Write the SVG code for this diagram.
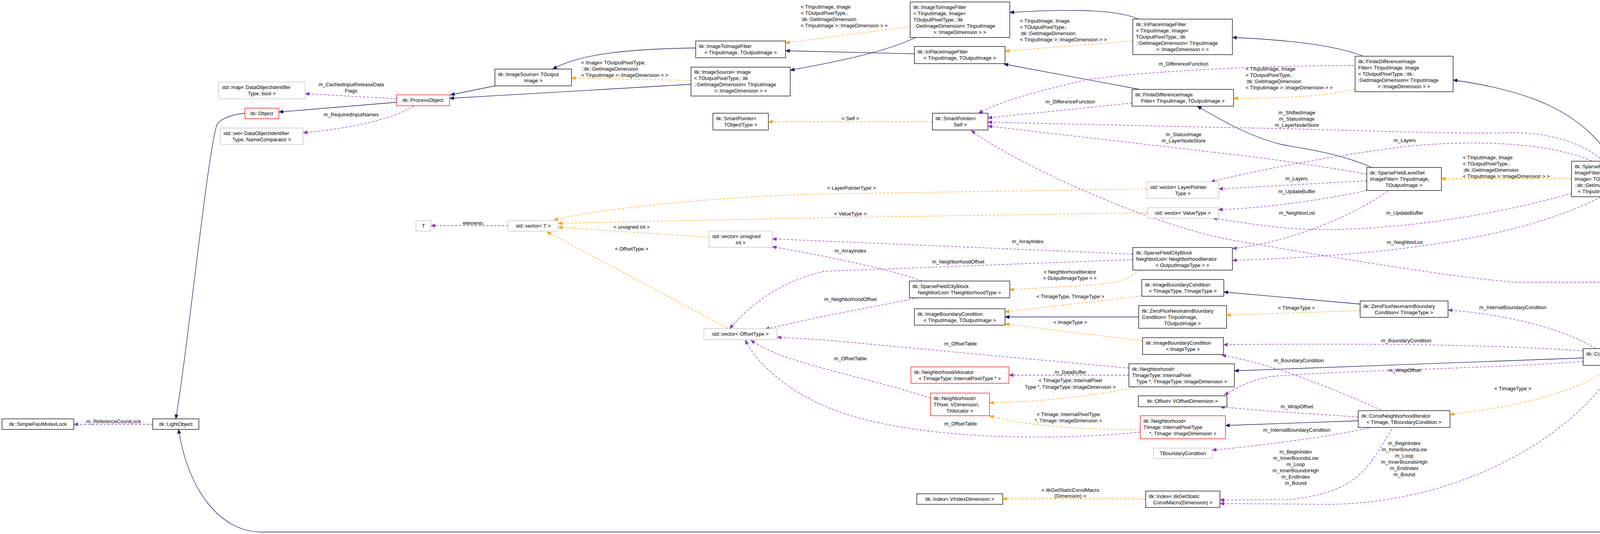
<svg xmlns="http://www.w3.org/2000/svg" width="6315" height="1368" viewBox="0 0 6315 1368">
<style>
text{font-family:"Liberation Sans",Arial,sans-serif;font-size:13px;fill:#000}
.c{text-anchor:middle}
.n rect{fill:#fff;stroke:#000;stroke-width:1.3}
.g rect{stroke:#bfbfbf}
.r rect{stroke:#ff0000}
.h rect{fill:#bfbfbf}
.e path{fill:none;stroke-width:1.3}
.nv{stroke:#191970}
.pu{stroke:#9a32cd;stroke-dasharray:6,4}
.or{stroke:#ffa500;stroke-dasharray:6,4}
</style>
<defs>
<marker id="an" markerWidth="12" markerHeight="10" refX="11" refY="5" orient="auto" markerUnits="userSpaceOnUse"><path d="M0,0 L12,5 L0,10 z" fill="#191970"/></marker>
<marker id="ap" markerWidth="12" markerHeight="10" refX="11" refY="5" orient="auto" markerUnits="userSpaceOnUse"><path d="M0,0 L12,5 L0,10 z" fill="#9a32cd"/></marker>
<marker id="ao" markerWidth="12" markerHeight="10" refX="11" refY="5" orient="auto" markerUnits="userSpaceOnUse"><path d="M0,0 L12,5 L0,10 z" fill="#ffa500"/></marker>
</defs>
<rect width="6315" height="1368" fill="#fff"/>
<g id="edges" class="e">
<path class="nv" marker-end="url(#an)" d="M6056,629 L6004,629"/>
<path class="nv" marker-end="url(#an)" d="M5752,600 C5600,565 5400,565 5300,565 L4540,565 C4400,565 4330,530 4278,505"/>
<path class="nv" marker-end="url(#an)" d="M4128,413 C4050,280 3900,230 3720,205"/>
<path class="nv" marker-end="url(#an)" d="M3510,428 C3420,390 3330,380 3280,370 C3200,350 3130,310 3065,272"/>
<path class="nv" marker-end="url(#an)" d="M3488,143 C3400,110 3250,100 3155,96"/>
<path class="nv" marker-end="url(#an)" d="M2917,229 L2570,164"/>
<path class="nv" marker-end="url(#an)" d="M2915,49 C2850,20 2700,25 2585,32"/>
<path class="nv" marker-end="url(#an)" d="M2341,138 L2011,130"/>
<path class="nv" marker-end="url(#an)" d="M2345,96 C2250,140 2100,165 2023,180"/>
<path class="nv" marker-end="url(#an)" d="M1781,123 C1600,125 1480,140 1415,177"/>
<path class="nv" marker-end="url(#an)" d="M1769,216 L1151,252"/>
<path class="nv" marker-end="url(#an)" d="M1267,220 L1153,243"/>
<path class="nv" marker-end="url(#an)" d="M1015,262 L714,287"/>
<path class="nv" marker-end="url(#an)" d="M627,290 C580,295 560,310 555,320 C530,400 480,900 450,1073"/>
<path class="nv" marker-end="url(#an)" d="M4475,912 C4380,1000 4360,1150 4340,1250 C4320,1330 4280,1363 4200,1363 L670,1363 C560,1363 480,1250 457,1100"/>
<path class="nv" marker-end="url(#an)" d="M4958,829 L4654,873"/>
<path class="nv" marker-end="url(#an)" d="M5304,773 L5111,802"/>
<path class="nv" marker-end="url(#an)" d="M2915,812 L2573,812"/>
<path class="nv" marker-end="url(#an)" d="M3482,779 L3133,748"/>
<path class="nv" marker-end="url(#an)" d="M4053,917 L3160,950"/>
<path class="nv" marker-end="url(#an)" d="M3477,1078 L3137,1090"/>
<path class="or" marker-end="url(#ao)" d="M1769,206 L1463,200"/>
<path class="or" marker-end="url(#ao)" d="M2330,68 L2011,110"/>
<path class="or" marker-end="url(#ao)" d="M2900,105 L2573,131"/>
<path class="or" marker-end="url(#ao)" d="M3469,228 C3400,245 3300,252 3158,252"/>
<path class="or" marker-end="url(#ao)" d="M4023,458 L3690,458"/>
<path class="or" marker-end="url(#ao)" d="M2387,312 L1967,312"/>
<path class="or" marker-end="url(#ao)" d="M2936,484 L2100,497 C1800,505 1500,540 1418,564"/>
<path class="or" marker-end="url(#ao)" d="M2937,545 L2100,558 L1429,572"/>
<path class="or" marker-end="url(#ao)" d="M1815,608 L1429,582"/>
<path class="or" marker-end="url(#ao)" d="M1864,841 L1400,594"/>
<path class="or" marker-end="url(#ao)" d="M2918,692 C2880,720 2860,725 2800,730 L2585,742"/>
<path class="or" marker-end="url(#ao)" d="M2923,758 L2573,799"/>
<path class="or" marker-end="url(#ao)" d="M2925,873 L2573,830"/>
<path class="or" marker-end="url(#ao)" d="M3482,796 L3140,807"/>
<path class="or" marker-end="url(#ao)" d="M2905,992 C2800,1015 2650,1030 2533,1032"/>
<path class="or" marker-end="url(#ao)" d="M2919,1101 C2750,1100 2620,1090 2533,1065"/>
<path class="or" marker-end="url(#ao)" d="M4127,938 C4050,1000 3900,1040 3712,1062"/>
<path class="or" marker-end="url(#ao)" d="M2933,1278 L2567,1278"/>
<path class="or" marker-end="url(#ao)" d="M4910,933 L4641,951"/>
<path class="pu" marker-end="url(#ap)" d="M1015,253 L781,240"/>
<path class="pu" marker-end="url(#ap)" d="M1060,271 C1020,300 900,330 776,340"/>
<path class="pu" marker-end="url(#ap)" d="M391,1087 L189,1087"/>
<path class="pu" marker-end="url(#ap)" d="M1301,578 L1103,578"/>
<path class="pu" marker-end="url(#ap)" d="M2900,651 L1977,612"/>
<path class="pu" marker-end="url(#ap)" d="M2360,720 C2250,680 2050,645 1977,632"/>
<path class="pu" marker-end="url(#ap)" d="M2900,665 L2110,695 C2000,720 1920,780 1868,842"/>
<path class="pu" marker-end="url(#ap)" d="M2350,763 L2100,812 L1959,843"/>
<path class="pu" marker-end="url(#ap)" d="M2890,943 L2100,870 L1989,864"/>
<path class="pu" marker-end="url(#ap)" d="M2382,1020 C2200,960 2000,930 1922,871"/>
<path class="pu" marker-end="url(#ap)" d="M2919,1107 C2700,1130 2300,1130 2100,1035 C2000,990 1930,920 1908,871"/>
<path class="pu" marker-end="url(#ap)" d="M2890,961 L2583,961"/>
<path class="pu" marker-end="url(#ap)" d="M2898,264 L2529,302"/>
<path class="pu" marker-end="url(#ap)" d="M3466,168 C3200,168 2900,185 2780,205 C2650,235 2560,260 2505,290"/>
<path class="pu" marker-end="url(#ap)" d="M3499,446 C3350,420 3200,400 3150,395 L2529,323"/>
<path class="pu" marker-end="url(#ap)" d="M4103,413 C4050,360 3950,340 3880,340 C3700,345 3400,330 3150,327 L2529,313"/>
<path class="pu" marker-end="url(#ap)" d="M3499,463 L3120,484"/>
<path class="pu" marker-end="url(#ap)" d="M4075,412 C3950,360 3750,360 3600,375 C3400,400 3200,440 3100,466"/>
<path class="pu" marker-end="url(#ap)" d="M3499,488 C3350,520 3200,535 3119,537"/>
<path class="pu" marker-end="url(#ap)" d="M4023,495 C3800,560 3500,600 3300,585 C3200,575 3150,565 3105,559"/>
<path class="pu" marker-end="url(#ap)" d="M3553,490 C3450,560 3300,620 3155,637"/>
<path class="pu" marker-end="url(#ap)" d="M4098,505 C3950,580 3700,650 3155,667"/>
<path class="pu" marker-end="url(#ap)" d="M5304,740 C5200,725 5100,723 5000,723 L3880,723 C3700,710 3300,640 3160,616 C2950,580 2600,420 2486,334"/>
<path class="pu" marker-end="url(#ap)" d="M5762,660 C5700,690 5600,715 5532,725"/>
<path class="pu" marker-end="url(#ap)" d="M5350,784 C5280,820 5200,860 5110,895"/>
<path class="pu" marker-end="url(#ap)" d="M4958,816 L4656,816"/>
<path class="pu" marker-end="url(#ap)" d="M4455,816 L4200,816"/>
<path class="pu" marker-end="url(#ap)" d="M4458,897 L4272,907"/>
<path class="pu" marker-end="url(#ap)" d="M4085,893 C4000,840 3850,805 3707,794"/>
<path class="pu" marker-end="url(#ap)" d="M4053,899 C3800,880 3400,880 3132,883"/>
<path class="pu" marker-end="url(#ap)" d="M3535,1050 C3400,990 3250,930 3128,910"/>
<path class="pu" marker-end="url(#ap)" d="M4053,926 C3800,945 3400,950 3250,965 C3180,980 3160,1000 3134,1011"/>
<path class="pu" marker-end="url(#ap)" d="M3477,1068 C3350,1060 3200,1050 3124,1042"/>
<path class="pu" marker-end="url(#ap)" d="M3505,1096 C3400,1120 3200,1145 3103,1153"/>
<path class="pu" marker-end="url(#ap)" d="M3563,1100 C3500,1200 3480,1260 3300,1280 L3123,1281"/>
<path class="pu" marker-end="url(#ap)" d="M4137,942 C4000,1150 3700,1290 3400,1292 L3123,1290"/>
</g>
<g id="edge-labels">
<text x="1488" y="165">&lt; Image&lt; TOutputPixelType,</text><text x="1488" y="181">::itk::GetImageDimension</text><text x="1488" y="197">&lt; TInputImage &gt;::ImageDimension &gt; &gt;</text>
<text x="2050" y="22">&lt; TInputImage, Image</text><text x="2050" y="38">&lt; TOutputPixelType,:</text><text x="2050" y="54">:itk::GetImageDimension</text><text x="2050" y="70">&lt; TInputImage &gt;::ImageDimension &gt; &gt;</text>
<text x="2611" y="58">&lt; TInputImage, Image</text><text x="2611" y="74">&lt; TOutputPixelType,:</text><text x="2611" y="90">:itk::GetImageDimension</text><text x="2611" y="106">&lt; TInputImage &gt;::ImageDimension &gt; &gt;</text>
<text x="3189" y="181">&lt; TInputImage, Image</text><text x="3189" y="197">&lt; TOutputPixelType,:</text><text x="3189" y="213">:itk::GetImageDimension</text><text x="3189" y="229">&lt; TInputImage &gt;::ImageDimension &gt; &gt;</text>
<text x="3745" y="408">&lt; TInputImage, Image</text><text x="3745" y="424">&lt; TOutputPixelType,:</text><text x="3745" y="440">:itk::GetImageDimension</text><text x="3745" y="456">&lt; TInputImage &gt;::ImageDimension &gt; &gt;</text>
<text class="c" x="2177" y="308">&lt; Self &gt;</text>
<text class="c" x="2180" y="486">&lt; LayerPointerType &gt;</text>
<text class="c" x="2177" y="552">&lt; ValueType &gt;</text>
<text class="c" x="1617" y="586">&lt; unsigned int &gt;</text>
<text class="c" x="1617" y="642">&lt; OffsetType &gt;</text>
<text class="c" x="2739" y="701">&lt; NeighborhoodIterator</text><text class="c" x="2739" y="717">&lt; OutputImageType &gt; &gt;</text>
<text class="c" x="2740" y="764">&lt; TImageType, TImageType &gt;</text>
<text class="c" x="2740" y="830">&lt; ImageType &gt;</text>
<text class="c" x="3319" y="793">&lt; TImageType &gt;</text>
<text class="c" x="2740" y="979">&lt; TImageType::InternalPixel</text><text class="c" x="2740" y="996">Type *, TImageType::ImageDimension &gt;</text>
<text class="c" x="2735" y="1066">&lt; TImage::InternalPixelType</text><text class="c" x="2735" y="1082">*, TImage::ImageDimension &gt;</text>
<text class="c" x="3873" y="1000">&lt; TImageType &gt;</text>
<text class="c" x="2740" y="1260">&lt; itkGetStaticConstMacro</text><text class="c" x="2740" y="1275">(Dimension) &gt;</text>
<text class="c" x="4783" y="915">&lt; typename VectorInterpolator</text><text class="c" x="4783" y="932">Type::OutputType, VectorType &gt;</text>
<text class="c" x="899" y="221">m_CachedInputReleaseData</text><text class="c" x="899" y="237">Flags</text>
<text class="c" x="899" y="298">m_RequiredInputNames</text>
<text class="c" x="291" y="1084">m_ReferenceCountLock</text>
<text class="c" x="1211" y="576">elements</text>
<text class="c" x="2631" y="623">m_ArrayIndex</text>
<text class="c" x="2177" y="647">m_ArrayIndex</text>
<text class="c" x="2453" y="675">m_NeighborhoodOffset</text>
<text class="c" x="2177" y="771">m_NeighborhoodOffset</text>
<text class="c" x="2459" y="885">m_OffsetTable</text>
<text class="c" x="2177" y="923">m_OffsetTable</text>
<text class="c" x="2459" y="1090">m_OffsetTable</text>
<text class="c" x="2740" y="958">m_DataBuffer</text>
<text class="c" x="2740" y="265">m_DifferenceFunction</text>
<text class="c" x="3030" y="168">m_DifferenceFunction</text>
<text class="c" x="3030" y="349">m_StatusImage</text><text class="c" x="3030" y="365">m_LayerNodeStore</text>
<text class="c" x="3320" y="293">m_ShiftedImage</text><text class="c" x="3320" y="309">m_StatusImage</text><text class="c" x="3320" y="325">m_LayerNodeStore</text>
<text class="c" x="3319" y="462">m_Layers</text>
<text class="c" x="3596" y="364">m_Layers</text>
<text class="c" x="3320" y="495">m_UpdateBuffer</text>
<text class="c" x="3596" y="550">m_UpdateBuffer</text>
<text class="c" x="3320" y="550">m_NeighborList</text>
<text class="c" x="3596" y="625">m_NeighborList</text>
<text class="c" x="4157" y="688">m_VectorInterpolator</text><text class="c" x="4157" y="704">m_AdvectionImage</text><text class="c" x="4157" y="720">m_Interpolator</text>
<text class="c" x="5644" y="669">m_SegmentationFunction</text>
<text class="c" x="5233" y="816">m_VectorCast</text>
<text class="c" x="4783" y="813">m_ZeroVectorConstant</text>
<text class="c" x="4380" y="813">m_InternalArray</text>
<text class="c" x="4380" y="893">m_Radius</text>
<text class="c" x="3873" y="792">m_InternalBoundaryCondition</text>
<text class="c" x="3600" y="877">m_BoundaryCondition</text>
<text class="c" x="3325" y="928">m_BoundaryCondition</text>
<text class="c" x="3596" y="953">m_WrapOffset</text>
<text class="c" x="3320" y="1046">m_WrapOffset</text>
<text class="c" x="3320" y="1106">m_InternalBoundaryCondition</text>
<text class="c" x="3317" y="1162">m_BeginIndex</text><text class="c" x="3317" y="1178">m_InnerBoundsLow</text><text class="c" x="3317" y="1194">m_Loop</text><text class="c" x="3317" y="1210">m_InnerBoundsHigh</text><text class="c" x="3317" y="1226">m_EndIndex</text><text class="c" x="3317" y="1242">m_Bound</text>
<text class="c" x="3595" y="1140">m_BeginIndex</text><text class="c" x="3595" y="1156">m_InnerBoundsLow</text><text class="c" x="3595" y="1172">m_Loop</text><text class="c" x="3595" y="1188">m_InnerBoundsHigh</text><text class="c" x="3595" y="1204">m_EndIndex</text><text class="c" x="3595" y="1220">m_Bound</text>
</g>
<g id="canny" class="n h"><rect x="6056" y="599" width="253" height="60"/><text x="6064" y="617">itk::CannySegmentationLevel</text><text x="6064" y="633">SetImageFilter&lt; TInputImage,</text><text class="c" x="6182" y="649">TFeatureImage, TOutputPixelType &gt;</text></g>
<g id="slsif" class="n"><rect x="5752" y="599" width="252" height="60"/><text x="5760" y="617">itk::SegmentationLevelSet</text><text x="5760" y="633">ImageFilter&lt; TInputImage,</text><text class="c" x="5878" y="649">TFeatureImage, TOutputPixelType &gt;</text></g>
<g id="sfls_img" class="n"><rect x="4023" y="413" width="257" height="91"/><text x="4031" y="431">itk::SparseFieldLevelSet</text><text x="4031" y="447">ImageFilter&lt; TInputImage,</text><text x="4031" y="463">Image&lt; TOutputPixelType,</text><text x="4031" y="479">::itk::GetImageDimension</text><text class="c" x="4151" y="495">&lt; TInputImage &gt;::ImageDimension &gt; &gt;</text></g>
<g id="sfls" class="n"><rect x="3499" y="429" width="191" height="59"/><text x="3507" y="447">itk::SparseFieldLevelSet</text><text x="3507" y="463">ImageFilter&lt; TInputImage,</text><text class="c" x="3594" y="479">TOutputImage &gt;</text></g>
<g id="fdif_img" class="n"><rect x="3469" y="144" width="251" height="91"/><text x="3477" y="162">itk::FiniteDifferenceImage</text><text x="3477" y="178">Filter&lt; TInputImage, Image</text><text x="3477" y="194">&lt; TOutputPixelType,::itk:</text><text x="3477" y="210">:GetImageDimension&lt; TInputImage</text><text class="c" x="3594" y="226">&gt;::ImageDimension &gt; &gt;</text></g>
<g id="fdif" class="n"><rect x="2898" y="229" width="260" height="43"/><text x="2906" y="247">itk::FiniteDifferenceImage</text><text class="c" x="3028" y="263">Filter&lt; TInputImage, TOutputImage &gt;</text></g>
<g id="inplace_img" class="n"><rect x="2900" y="49" width="255" height="91"/><text x="2908" y="67">itk::InPlaceImageFilter</text><text x="2908" y="83">&lt; TInputImage, Image&lt;</text><text x="2908" y="99">TOutputPixelType,::itk</text><text x="2908" y="115">::GetImageDimension&lt; TInputImage</text><text class="c" x="3027" y="131">&gt;::ImageDimension &gt; &gt;</text></g>
<g id="inplace" class="n"><rect x="2341" y="119" width="232" height="44"/><text x="2349" y="137">itk::InPlaceImageFilter</text><text class="c" x="2457" y="153">&lt; TInputImage, TOutputImage &gt;</text></g>
<g id="i2i_img" class="n"><rect x="2330" y="5" width="255" height="91"/><text x="2338" y="23">itk::ImageToImageFilter</text><text x="2338" y="39">&lt; TInputImage, Image&lt;</text><text x="2338" y="55">TOutputPixelType,::itk</text><text x="2338" y="71">::GetImageDimension&lt; TInputImage</text><text class="c" x="2457" y="87">&gt;::ImageDimension &gt; &gt;</text></g>
<g id="i2i" class="n"><rect x="1781" y="105" width="230" height="43"/><text x="1789" y="123">itk::ImageToImageFilter</text><text class="c" x="1896" y="139">&lt; TInputImage, TOutputImage &gt;</text></g>
<g id="isrc_img" class="n"><rect x="1769" y="172" width="254" height="74"/><text x="1777" y="189">itk::ImageSource&lt; Image</text><text x="1777" y="205">&lt; TOutputPixelType,::itk</text><text x="1777" y="221">::GetImageDimension&lt; TInputImage</text><text class="c" x="1896" y="237">&gt;::ImageDimension &gt; &gt;</text></g>
<g id="isrc" class="n"><rect x="1267" y="177" width="196" height="43"/><text x="1275" y="195">itk::ImageSource&lt; TOutput</text><text class="c" x="1365" y="211">Image &gt;</text></g>
<g id="process" class="n r"><rect x="1015" y="243" width="136" height="28"/><text class="c" x="1083" y="261">itk::ProcessObject</text></g>
<g id="object" class="n r"><rect x="627" y="277" width="87" height="27"/><text class="c" x="670" y="295">itk::Object</text></g>
<g id="map" class="n g"><rect x="560" y="210" width="221" height="43"/><text x="568" y="228">std::map&lt; DataObjectIdentifier</text><text class="c" x="670" y="244">Type, bool &gt;</text></g>
<g id="set" class="n g"><rect x="564" y="328" width="212" height="42"/><text x="572" y="346">std::set&lt; DataObjectIdentifier</text><text class="c" x="670" y="362">Type, NameComparator &gt;</text></g>
<g id="light" class="n"><rect x="391" y="1073" width="118" height="27"/><text class="c" x="450" y="1091">itk::LightObject</text></g>
<g id="mutex" class="n"><rect x="5" y="1073" width="184" height="27"/><text class="c" x="97" y="1091">itk::SimpleFastMutexLock</text></g>
<g id="spTO" class="n"><rect x="1825" y="290" width="142" height="43"/><text x="1833" y="308">itk::SmartPointer&lt;</text><text class="c" x="1896" y="324">TObjectType &gt;</text></g>
<g id="spSelf" class="n"><rect x="2387" y="290" width="142" height="43"/><text x="2395" y="308">itk::SmartPointer&lt;</text><text class="c" x="2458" y="324">Self &gt;</text></g>
<g id="T" class="n g"><rect x="1065" y="565" width="38" height="27"/><text class="c" x="1084" y="583">T</text></g>
<g id="vecT" class="n g"><rect x="1301" y="565" width="128" height="27"/><text class="c" x="1365" y="583">std::vector&lt; T &gt;</text></g>
<g id="vecUI" class="n g"><rect x="1815" y="592" width="162" height="42"/><text x="1823" y="610">std::vector&lt; unsigned</text><text class="c" x="1896" y="626">int &gt;</text></g>
<g id="vecOT" class="n g"><rect x="1802" y="842" width="187" height="28"/><text class="c" x="1895" y="860">std::vector&lt; OffsetType &gt;</text></g>
<g id="vecLPT" class="n g"><rect x="2936" y="466" width="184" height="42"/><text x="2944" y="484">std::vector&lt; LayerPointer</text><text class="c" x="3028" y="500">Type &gt;</text></g>
<g id="vecVT" class="n g"><rect x="2937" y="532" width="182" height="27"/><text class="c" x="3028" y="550">std::vector&lt; ValueType &gt;</text></g>
<g id="sfcbnlNI" class="n"><rect x="2900" y="634" width="255" height="58"/><text x="2908" y="652">itk::SparseFieldCityBlock</text><text x="2908" y="668">NeighborList&lt; NeighborhoodIterator</text><text class="c" x="3027" y="684">&lt; OutputImageType &gt; &gt;</text></g>
<g id="sfcbnlTN" class="n"><rect x="2328" y="720" width="257" height="43"/><text x="2336" y="738">itk::SparseFieldCityBlock</text><text class="c" x="2456" y="754">NeighborList&lt; TNeighborhoodType &gt;</text></g>
<g id="ibcIO" class="n"><rect x="2341" y="791" width="232" height="42"/><text x="2349" y="809">itk::ImageBoundaryCondition</text><text class="c" x="2457" y="825">&lt; TInputImage, TOutputImage &gt;</text></g>
<g id="ibcTT" class="n"><rect x="2923" y="716" width="210" height="43"/><text x="2931" y="734">itk::ImageBoundaryCondition</text><text class="c" x="3028" y="750">&lt; TImageType, TImageType &gt;</text></g>
<g id="zfnIO" class="n"><rect x="2915" y="783" width="225" height="58"/><text x="2923" y="801">itk::ZeroFluxNeumannBoundary</text><text x="2923" y="817">Condition&lt; TInputImage,</text><text class="c" x="3027" y="833">TOutputImage &gt;</text></g>
<g id="ibcIT" class="n"><rect x="2925" y="865" width="207" height="43"/><text x="2933" y="883">itk::ImageBoundaryCondition</text><text class="c" x="3028" y="899">&lt; ImageType &gt;</text></g>
<g id="nbTT" class="n"><rect x="2890" y="932" width="270" height="59"/><text x="2898" y="950">itk::Neighborhood&lt;</text><text x="2898" y="966"> TImageType::InternalPixel</text><text class="c" x="3025" y="982">Type *, TImageType::ImageDimension &gt;</text></g>
<g id="alloc" class="n r"><rect x="2332" y="940" width="251" height="42"/><text x="2340" y="958">itk::NeighborhoodAllocator</text><text class="c" x="2457" y="974">&lt; TImageType::InternalPixelType * &gt;</text></g>
<g id="nbPix" class="n r"><rect x="2382" y="1007" width="151" height="58"/><text x="2390" y="1025">itk::Neighborhood&lt;</text><text x="2390" y="1041">TPixel, VDimension,</text><text class="c" x="2457" y="1057">TAllocator &gt;</text></g>
<g id="offset" class="n"><rect x="2914" y="1014" width="227" height="28"/><text class="c" x="3027" y="1032">itk::Offset&lt; VOffsetDimension &gt;</text></g>
<g id="nbTI" class="n r"><rect x="2919" y="1065" width="218" height="59"/><text x="2927" y="1083">itk::Neighborhood&lt;</text><text x="2927" y="1099">TImage::InternalPixelType</text><text class="c" x="3028" y="1115">*, TImage::ImageDimension &gt;</text></g>
<g id="tbc" class="n g"><rect x="2953" y="1148" width="150" height="27"/><text class="c" x="3028" y="1166">TBoundaryCondition</text></g>
<g id="idxV" class="n"><rect x="2347" y="1265" width="220" height="27"/><text class="c" x="2457" y="1283">itk::Index&lt; VIndexDimension &gt;</text></g>
<g id="idxItk" class="n"><rect x="2933" y="1258" width="190" height="42"/><text x="2941" y="1276">itk::Index&lt; itkGetStatic</text><text class="c" x="3028" y="1292">ConstMacro(Dimension) &gt;</text></g>
<g id="zfnTT" class="n"><rect x="3482" y="771" width="225" height="42"/><text x="3490" y="789">itk::ZeroFluxNeumannBoundary</text><text class="c" x="3594" y="805">Condition&lt; TImageType &gt;</text></g>
<g id="vlength" class="n g"><rect x="4125" y="803" width="75" height="27"/><text class="c" x="4162" y="821">VLength</text></g>
<g id="cniTT" class="n"><rect x="4053" y="893" width="219" height="43"/><text x="4061" y="911">itk::ConstNeighborhoodIterator</text><text class="c" x="4162" y="927">&lt; TImageType &gt;</text></g>
<g id="cniTI" class="n"><rect x="3477" y="1052" width="235" height="43"/><text x="3485" y="1070">itk::ConstNeighborhoodIterator</text><text class="c" x="3594" y="1086">&lt; TImage, TBoundaryCondition &gt;</text></g>
<g id="fixed" class="n"><rect x="4455" y="795" width="201" height="42"/><text x="4463" y="813">itk::FixedArray&lt; TValueType,</text><text class="c" x="4555" y="829">VLength &gt;</text></g>
<g id="lsf" class="n"><rect x="4958" y="795" width="153" height="42"/><text x="4966" y="813">itk::LevelSetFunction</text><text class="c" x="5034" y="829">&lt; TImageType &gt;</text></g>
<g id="fdf" class="n"><rect x="4458" y="869" width="196" height="43"/><text x="4466" y="887">itk::FiniteDifferenceFunction</text><text class="c" x="4556" y="903">&lt; TImageType &gt;</text></g>
<g id="vcIO" class="n"><rect x="4470" y="936" width="171" height="43"/><text x="4478" y="954">itk::Functor::VectorCast</text><text class="c" x="4555" y="970">&lt; TInput, TOutput &gt;</text></g>
<g id="vcTyp" class="n"><rect x="4910" y="895" width="249" height="58"/><text x="4918" y="913">itk::Functor::VectorCast</text><text x="4918" y="929">&lt; typename VectorInterpolatorType</text><text class="c" x="5034" y="945">::OutputType, VectorType &gt;</text></g>
<g id="slsf" class="n"><rect x="5304" y="725" width="228" height="59"/><text x="5312" y="743">itk::SegmentationLevelSet</text><text x="5312" y="759">Function&lt; TImageType, TFeature</text><text class="c" x="5418" y="775">ImageType &gt;</text></g>
</svg>
